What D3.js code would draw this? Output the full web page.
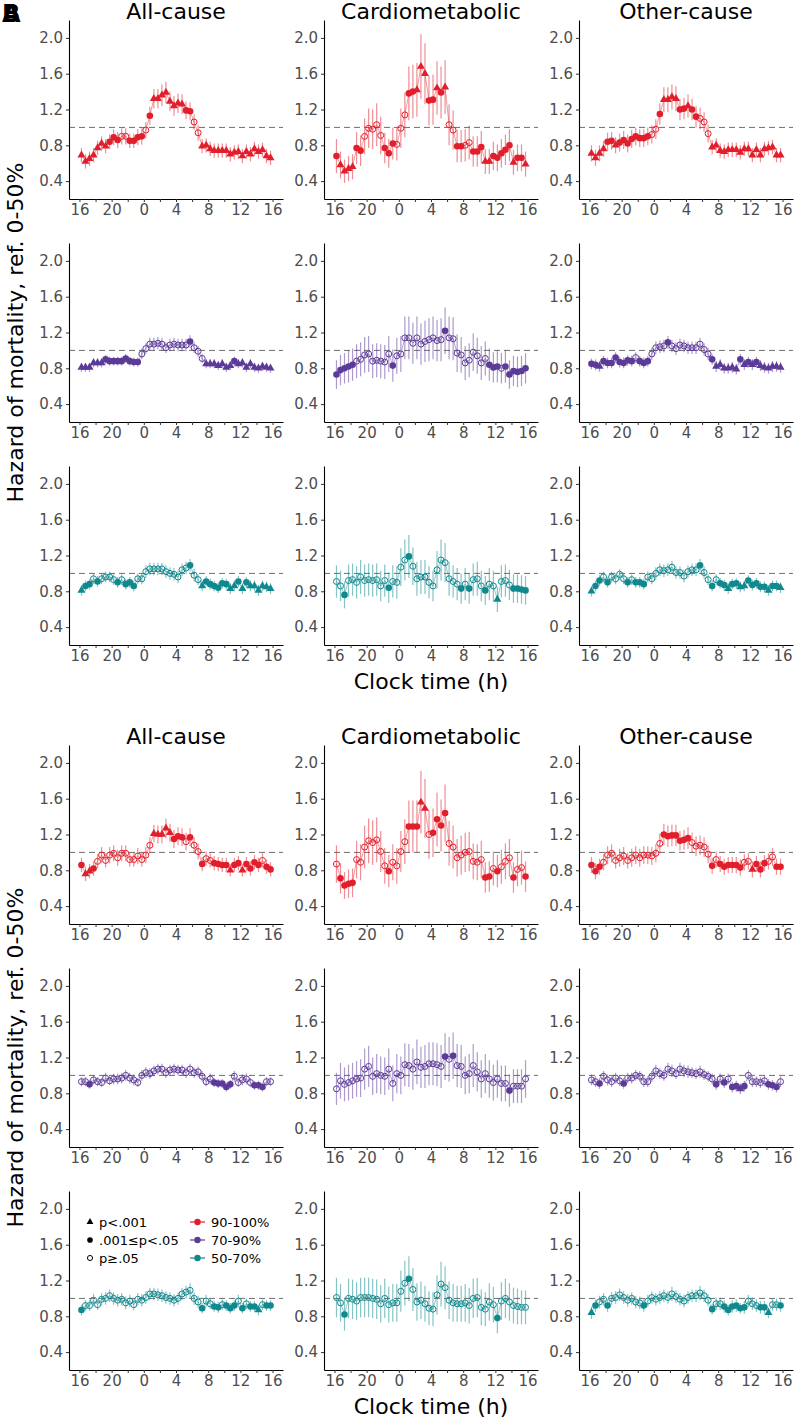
<!DOCTYPE html>
<html><head><meta charset="utf-8">
<script src="https://cdn.jsdelivr.net/npm/d3@7"></script>
<style>body{margin:0;background:#fff}svg{display:block}text{font-family:"DejaVu Sans",sans-serif}</style>
</head><body>
<script>
// ---------------- DATA ----------------
const times = [16.25,16.75,17.25,17.75,18.25,18.75,19.25,19.75,20.25,20.75,21.25,21.75,22.25,22.75,23.25,23.75,
  24.25,24.75,25.25,25.75,26.25,26.75,27.25,27.75,28.25,28.75,29.25,29.75,30.25,30.75,31.25,31.75,
  32.25,32.75,33.25,33.75,34.25,34.75,35.25,35.75,36.25,36.75,37.25,37.75,38.25,38.75,39.25,39.75];
const xTickValues = [16,18,20,22,24,26,28,30,32,34,36,38,40];
const xTickLabels = ["16","","20","","0","","4","","8","","12","","16"];
const yTickValues = [0.4,0.8,1.2,1.6,2.0];
const yTickLabels = ["0.4","0.8","1.2","1.6","2.0"];
const sections = ["A","B"];
const causes = ["All-cause","Cardiometabolic","Other-cause"];
const groups = ["90-100%","70-90%","50-70%"];
const groupColors = ["#E11E2B","#5C3A97","#0F898E"];
const sigCodes = ["T","D","O"];
const sigLabels = ["p<.001",".001\u2264p<.05","p\u2265.05"];
const refLine = 1.0;

// Section A
const A_all_90_hr = [0.69,0.62,0.65,0.69,0.77,0.82,0.79,0.84,0.89,0.86,0.90,0.90,0.85,0.85,0.89,0.90,0.97,1.13,1.32,1.32,1.36,1.39,1.29,1.24,1.27,1.26,1.19,1.18,1.06,0.94,0.79,0.80,0.76,0.74,0.74,0.74,0.74,0.70,0.72,0.73,0.68,0.73,0.70,0.76,0.73,0.75,0.68,0.66];
const A_all_90_sig = "TTTTTTTDDDOODDDDODTTTTTTTTDDOOTTTTTTTTTTTTTTTTTT";
const A_all_90_ci = [0.08,0.08,0.08,0.08,0.08,0.08,0.08,0.08,0.09,0.09,0.09,0.09,0.08,0.08,0.09,0.09,0.09,0.10,0.11,0.11,0.12,0.12,0.11,0.11,0.11,0.11,0.10,0.10,0.09,0.09,0.08,0.08,0.08,0.08,0.08,0.08,0.08,0.08,0.08,0.08,0.08,0.08,0.08,0.08,0.08,0.08,0.08,0.08];

const A_cardio_90_hr = [0.68,0.58,0.51,0.54,0.56,0.77,0.74,0.90,0.99,0.98,1.03,0.91,0.77,0.71,0.82,0.81,0.99,1.14,1.38,1.40,1.42,1.68,1.60,1.30,1.31,1.44,1.39,1.45,1.03,0.97,0.79,0.79,0.80,0.83,0.73,0.73,0.78,0.62,0.62,0.68,0.66,0.71,0.75,0.80,0.61,0.66,0.66,0.59];
const A_cardio_90_sig = "DTTTTDDOOOOODDDOOODDTTTDDTDTOODDOODDDTTDDDDDTDDT";
const A_cardio_90_ci = [0.19,0.15,0.13,0.14,0.14,0.18,0.17,0.20,0.22,0.22,0.24,0.21,0.17,0.16,0.18,0.18,0.22,0.25,0.30,0.30,0.30,0.36,0.34,0.28,0.28,0.30,0.29,0.30,0.23,0.22,0.18,0.18,0.18,0.19,0.17,0.17,0.18,0.14,0.14,0.16,0.15,0.16,0.17,0.18,0.14,0.15,0.15,0.14];

const A_other_90_hr = [0.71,0.66,0.71,0.76,0.84,0.85,0.80,0.83,0.86,0.82,0.87,0.90,0.88,0.88,0.90,0.92,0.98,1.15,1.31,1.31,1.34,1.32,1.20,1.21,1.24,1.20,1.12,1.10,1.06,0.93,0.78,0.80,0.74,0.73,0.75,0.75,0.75,0.72,0.76,0.76,0.69,0.75,0.69,0.76,0.77,0.78,0.69,0.69];
const A_other_90_sig = "TTTTDDTDDDDDDDDOODTTTTDDTDDOOOTTTTTTTTTTTTTTTTTT";
const A_other_90_ci = [0.09,0.09,0.09,0.09,0.10,0.10,0.09,0.10,0.10,0.10,0.10,0.10,0.10,0.10,0.10,0.10,0.11,0.12,0.14,0.14,0.14,0.14,0.12,0.12,0.13,0.12,0.12,0.12,0.11,0.10,0.08,0.08,0.08,0.08,0.08,0.08,0.08,0.08,0.08,0.08,0.08,0.08,0.08,0.08,0.08,0.08,0.08,0.08];

const A_all_70_hr = [0.81,0.81,0.81,0.86,0.86,0.86,0.90,0.88,0.88,0.88,0.88,0.91,0.88,0.87,0.87,0.96,1.02,1.07,1.07,1.08,1.07,1.03,1.06,1.07,1.06,1.06,1.06,1.10,1.03,0.99,0.91,0.85,0.85,0.85,0.83,0.85,0.81,0.83,0.88,0.85,0.86,0.81,0.85,0.81,0.80,0.82,0.81,0.80];
const A_all_70_sig = "TTTTTTDDDDDDDDDOOOOOOOOOOOODOOOTTTTTTTDTTTTTTTTT";
const A_all_70_ci = [0.05,0.05,0.05,0.05,0.05,0.05,0.05,0.05,0.05,0.05,0.05,0.05,0.05,0.05,0.05,0.06,0.06,0.07,0.07,0.07,0.07,0.06,0.07,0.07,0.07,0.07,0.07,0.07,0.06,0.06,0.05,0.05,0.05,0.05,0.05,0.05,0.05,0.05,0.05,0.05,0.05,0.05,0.05,0.05,0.05,0.05,0.05,0.05];

const A_cardio_70_hr = [0.73,0.78,0.80,0.82,0.84,0.88,0.90,0.95,0.96,0.88,0.89,0.88,0.87,0.96,0.83,0.94,0.96,1.14,1.14,1.08,1.14,1.07,1.10,1.12,1.14,1.11,1.12,1.22,1.14,1.13,0.97,0.95,0.86,0.89,0.98,0.94,0.86,0.91,0.84,0.81,0.82,0.80,0.82,0.73,0.77,0.76,0.77,0.80];
const A_cardio_70_sig = "DDDDDOOOOOOOOODOOOOOOOOOOOODOOOOOOOOOODDDODDDDDD";
const A_cardio_70_ci = [0.16,0.17,0.17,0.18,0.18,0.19,0.19,0.20,0.20,0.19,0.19,0.19,0.19,0.20,0.18,0.20,0.20,0.24,0.24,0.23,0.24,0.23,0.23,0.24,0.24,0.23,0.24,0.26,0.24,0.24,0.21,0.20,0.19,0.19,0.21,0.20,0.19,0.19,0.18,0.17,0.18,0.17,0.18,0.16,0.17,0.17,0.17,0.17];

const A_other_70_hr = [0.85,0.84,0.82,0.88,0.86,0.86,0.92,0.87,0.86,0.89,0.88,0.92,0.88,0.86,0.88,0.96,1.03,1.04,1.05,1.09,1.05,1.02,1.06,1.05,1.03,1.03,1.03,1.07,1.01,0.96,0.90,0.82,0.84,0.80,0.80,0.81,0.79,0.90,0.84,0.87,0.84,0.87,0.83,0.81,0.80,0.82,0.82,0.81];
const A_other_70_sig = "DDTDDDDDDDDODDDOOOODOOOOOOOOOODTTTTTTDTDTDTTTTTT";
const A_other_70_ci = [0.06,0.06,0.06,0.06,0.06,0.06,0.06,0.06,0.06,0.06,0.06,0.06,0.06,0.06,0.06,0.07,0.07,0.07,0.07,0.07,0.07,0.07,0.07,0.07,0.07,0.07,0.07,0.07,0.07,0.07,0.06,0.06,0.06,0.06,0.06,0.06,0.06,0.06,0.06,0.06,0.06,0.06,0.06,0.06,0.06,0.06,0.06,0.06];

const A_all_50_hr = [0.81,0.86,0.88,0.94,0.91,0.94,0.96,0.96,0.93,0.90,0.93,0.88,0.90,0.86,0.94,0.94,1.02,1.05,1.05,1.05,1.05,1.02,1.00,0.99,0.96,1.04,1.06,1.09,0.98,0.93,0.86,0.91,0.88,0.86,0.84,0.89,0.88,0.83,0.86,0.91,0.83,0.90,0.86,0.86,0.81,0.86,0.85,0.83];
const A_all_50_sig = "TDDODOOOODODDDOOOOOOOOOOOOODOOTDDDDDDTTDTDTTTTTT";
const A_all_50_ci = [0.06,0.06,0.06,0.06,0.06,0.06,0.06,0.06,0.06,0.06,0.06,0.06,0.06,0.06,0.06,0.06,0.07,0.07,0.07,0.07,0.07,0.07,0.07,0.07,0.07,0.07,0.07,0.07,0.07,0.06,0.06,0.06,0.06,0.06,0.06,0.06,0.06,0.06,0.06,0.06,0.06,0.06,0.06,0.06,0.06,0.06,0.06,0.06];

const A_cardio_50_hr = [0.91,0.86,0.76,0.92,0.93,0.90,0.96,0.92,0.93,0.92,0.93,0.86,0.92,0.84,0.91,0.90,1.07,1.15,1.19,1.08,0.94,0.96,0.96,0.90,0.86,1.04,1.15,1.12,0.94,0.91,0.88,0.83,0.88,0.83,0.93,0.94,0.86,0.81,0.88,0.86,0.71,0.91,0.92,0.87,0.83,0.83,0.82,0.81];
const A_cardio_50_sig = "OODOOOOOOOOOODOOOODOOOOOOOOOOOODODOOODOOTOOODDDD";
const A_cardio_50_ci = [0.18,0.17,0.15,0.18,0.18,0.18,0.19,0.18,0.18,0.18,0.18,0.17,0.18,0.17,0.18,0.18,0.21,0.23,0.24,0.21,0.19,0.19,0.19,0.18,0.17,0.21,0.23,0.22,0.19,0.18,0.18,0.17,0.18,0.17,0.18,0.19,0.17,0.16,0.18,0.17,0.14,0.18,0.18,0.17,0.16,0.16,0.16,0.16];

const A_other_50_hr = [0.80,0.86,0.92,0.96,0.90,0.96,0.94,0.99,0.94,0.90,0.93,0.90,0.90,0.88,0.96,0.94,1.00,1.04,1.03,1.04,1.07,1.01,1.01,0.97,1.02,1.04,1.04,1.09,1.01,0.93,0.86,0.93,0.89,0.87,0.83,0.88,0.89,0.85,0.86,0.92,0.87,0.89,0.85,0.85,0.81,0.86,0.86,0.84];
const A_other_50_sig = "TDDODOOOODODDDOOOOOOOOOOOOODOODODDTDDTTDDDDDTDDT";
const A_other_50_ci = [0.06,0.06,0.06,0.06,0.06,0.06,0.06,0.06,0.06,0.06,0.06,0.06,0.06,0.06,0.06,0.06,0.07,0.07,0.07,0.07,0.07,0.07,0.07,0.07,0.07,0.07,0.07,0.07,0.07,0.06,0.06,0.06,0.06,0.06,0.06,0.06,0.06,0.06,0.06,0.06,0.06,0.06,0.06,0.06,0.06,0.06,0.06,0.06];

// Section B
const B_all_90_hr = [0.86,0.76,0.79,0.82,0.90,0.97,0.91,0.97,0.99,0.94,0.99,0.99,0.92,0.92,0.96,0.92,0.97,1.08,1.21,1.20,1.20,1.27,1.22,1.15,1.18,1.17,1.12,1.17,1.08,1.01,0.87,0.93,0.91,0.88,0.87,0.86,0.86,0.80,0.86,0.88,0.80,0.87,0.82,0.89,0.86,0.91,0.84,0.81];
const B_all_90_sig = "DTTDOOOOOOOOOOOOOOTTTTTDDDODOODOODDDDTDDTDDDDODD";
const B_all_90_ci = [0.08,0.08,0.08,0.08,0.08,0.09,0.08,0.09,0.09,0.09,0.09,0.09,0.08,0.08,0.09,0.08,0.09,0.09,0.10,0.10,0.10,0.11,0.10,0.10,0.10,0.10,0.10,0.10,0.09,0.09,0.08,0.08,0.08,0.08,0.08,0.08,0.08,0.07,0.08,0.08,0.07,0.08,0.08,0.08,0.08,0.08,0.08,0.08];

const B_cardio_90_hr = [0.87,0.71,0.63,0.65,0.66,0.92,0.89,1.06,1.13,1.11,1.14,1.01,0.85,0.79,0.89,0.85,1.01,1.12,1.29,1.29,1.29,1.56,1.49,1.20,1.22,1.37,1.30,1.44,1.10,1.06,0.94,0.97,1.00,1.01,0.90,0.89,0.92,0.72,0.73,0.82,0.79,0.84,0.90,0.94,0.72,0.81,0.83,0.73];
const B_cardio_90_sig = "ODDDDOOOOOOOODOOOODDDTTODDDDOOOOOOOOODDODOOODOOD";
const B_cardio_90_ci = [0.21,0.17,0.15,0.16,0.16,0.21,0.20,0.24,0.25,0.25,0.25,0.23,0.20,0.18,0.20,0.20,0.23,0.25,0.29,0.29,0.29,0.35,0.33,0.27,0.27,0.30,0.29,0.32,0.25,0.24,0.21,0.22,0.22,0.22,0.20,0.20,0.21,0.17,0.17,0.19,0.18,0.19,0.20,0.21,0.17,0.19,0.19,0.17];

const B_other_90_hr = [0.86,0.79,0.84,0.89,0.97,0.99,0.91,0.94,0.96,0.91,0.94,0.97,0.94,0.97,0.97,0.96,0.99,1.10,1.20,1.18,1.19,1.19,1.13,1.14,1.16,1.11,1.07,1.08,1.06,0.98,0.85,0.92,0.87,0.84,0.86,0.86,0.86,0.83,0.89,0.90,0.81,0.87,0.81,0.88,0.90,0.95,0.84,0.84];
const B_other_90_sig = "DDDOOOOOOOOOOOOOOODDDDDDDOOOOODODDDDDDOOTDDDOODD";
const B_other_90_ci = [0.09,0.09,0.09,0.09,0.10,0.10,0.09,0.10,0.10,0.09,0.10,0.10,0.10,0.10,0.10,0.10,0.10,0.11,0.12,0.12,0.12,0.12,0.11,0.11,0.12,0.11,0.11,0.11,0.11,0.10,0.09,0.09,0.09,0.09,0.09,0.09,0.09,0.09,0.09,0.09,0.09,0.09,0.09,0.09,0.09,0.10,0.09,0.09];

const B_all_70_hr = [0.93,0.93,0.90,0.95,0.93,0.92,0.97,0.94,0.96,0.96,0.97,1.00,0.97,0.95,0.92,1.00,1.03,1.02,1.05,1.07,1.07,1.03,1.06,1.07,1.06,1.06,1.03,1.07,1.03,1.04,0.99,0.93,0.96,0.92,0.91,0.91,0.87,0.90,0.99,0.92,0.95,0.96,0.92,0.89,0.89,0.87,0.93,0.93];
const B_all_70_sig = "OODOOOOOOOOOOOOOOOOOOOOOOOOOOOOOODDDDDOOOOODDDOO";
const B_all_70_ci = [0.05,0.05,0.05,0.05,0.05,0.05,0.06,0.05,0.06,0.06,0.06,0.06,0.06,0.06,0.05,0.06,0.06,0.06,0.06,0.06,0.06,0.06,0.06,0.06,0.06,0.06,0.06,0.06,0.06,0.06,0.06,0.05,0.06,0.05,0.05,0.05,0.05,0.05,0.06,0.05,0.06,0.06,0.05,0.05,0.05,0.05,0.05,0.05];

const B_cardio_70_hr = [0.85,0.94,0.90,0.92,0.94,0.96,0.97,1.07,1.10,0.99,1.02,1.00,0.99,1.07,0.91,1.02,1.00,1.12,1.11,1.07,1.15,1.09,1.10,1.13,1.13,1.12,1.10,1.21,1.18,1.22,1.11,1.10,1.00,1.02,1.11,1.04,0.96,1.02,0.96,0.92,0.96,0.91,0.91,0.83,0.88,0.88,0.88,0.96];
const B_cardio_70_sig = "OOOOOOOOOOOOOOOOOOOOOOOOOOODODOOOOOOOOOOOOODOOOO";
const B_cardio_70_ci = [0.18,0.20,0.19,0.20,0.20,0.20,0.21,0.23,0.23,0.21,0.22,0.21,0.21,0.23,0.20,0.22,0.21,0.24,0.24,0.23,0.25,0.23,0.24,0.24,0.24,0.24,0.24,0.26,0.25,0.26,0.24,0.24,0.21,0.22,0.24,0.22,0.21,0.22,0.21,0.20,0.21,0.20,0.20,0.18,0.19,0.19,0.19,0.21];

const B_other_70_hr = [0.95,0.93,0.91,0.99,0.95,0.93,0.97,0.94,0.91,0.97,0.97,1.00,0.99,0.93,0.93,0.99,1.05,1.02,1.00,1.07,1.05,1.02,1.07,1.05,1.04,1.03,1.02,1.04,1.01,0.99,0.96,0.90,0.96,0.92,0.96,0.87,0.88,0.85,0.88,1.00,0.93,0.93,0.92,0.94,0.90,0.89,0.87,0.93];
const B_other_70_sig = "OODOOOOODOOOOOOOOOOOOOOOOOOOOOODODODDTDOOOOODDDO";
const B_other_70_ci = [0.06,0.06,0.06,0.06,0.06,0.06,0.06,0.06,0.06,0.06,0.06,0.06,0.06,0.06,0.06,0.06,0.07,0.06,0.06,0.07,0.07,0.06,0.07,0.07,0.07,0.06,0.06,0.07,0.06,0.06,0.06,0.06,0.06,0.06,0.06,0.06,0.06,0.06,0.06,0.06,0.06,0.06,0.06,0.06,0.06,0.06,0.06,0.06];

const B_all_50_hr = [0.87,0.92,0.92,0.98,0.93,0.99,1.00,1.03,1.00,0.98,0.99,0.95,0.97,0.93,0.99,0.98,1.01,1.05,1.05,1.04,1.03,1.01,1.00,0.98,1.00,1.05,1.07,1.09,1.00,0.96,0.89,0.97,0.94,0.91,0.90,0.93,0.92,0.89,0.92,0.97,0.89,0.94,0.91,0.91,0.87,0.93,0.92,0.92];
const B_all_50_sig = "DOOOOOOOOOOOOOOOOOOOOOOOOOOOOODOODDODDDODODDTODD";
const B_all_50_ci = [0.06,0.06,0.06,0.07,0.06,0.07,0.07,0.07,0.07,0.07,0.07,0.07,0.07,0.06,0.07,0.07,0.07,0.07,0.07,0.07,0.07,0.07,0.07,0.07,0.07,0.07,0.07,0.08,0.07,0.07,0.06,0.07,0.06,0.06,0.06,0.06,0.06,0.06,0.06,0.07,0.06,0.06,0.06,0.06,0.06,0.06,0.06,0.06];

const B_cardio_50_hr = [1.01,0.95,0.82,1.00,0.99,0.97,1.01,1.01,1.01,1.00,0.99,0.94,1.00,0.93,0.95,0.95,1.08,1.17,1.22,1.10,0.96,0.98,0.94,0.89,0.88,1.04,1.16,1.12,0.98,0.95,0.94,0.94,0.95,0.92,1.00,1.01,0.90,0.88,0.96,0.93,0.78,0.97,1.00,0.96,0.92,0.91,0.90,0.90];
const B_cardio_50_sig = "OODOOOOOOOOOOOOOOODOOOOOOOOOOOOOOOOOOOOODOOOOOOO";
const B_cardio_50_ci = [0.22,0.21,0.18,0.22,0.22,0.21,0.22,0.22,0.22,0.22,0.22,0.21,0.22,0.20,0.21,0.21,0.23,0.25,0.25,0.24,0.21,0.21,0.20,0.19,0.19,0.22,0.25,0.24,0.21,0.21,0.20,0.20,0.21,0.20,0.22,0.22,0.20,0.19,0.21,0.20,0.17,0.21,0.22,0.21,0.20,0.20,0.19,0.19];

const B_other_50_hr = [0.84,0.92,0.96,0.99,0.92,1.00,1.01,1.04,1.01,0.98,1.00,0.96,0.95,0.92,0.97,1.01,0.99,1.01,1.03,1.01,1.05,1.02,0.99,0.97,1.01,1.03,1.03,1.06,1.03,0.98,0.88,0.94,0.94,0.91,0.87,0.91,0.92,0.89,0.90,0.97,0.94,0.92,0.90,0.90,0.84,0.93,0.93,0.92];
const B_other_50_sig = "TDOODOOOOOOOODOOOOOOOOOOOOOOOODOODDDDDDOOODDTOOD";
const B_other_50_ci = [0.07,0.07,0.07,0.07,0.07,0.07,0.07,0.07,0.07,0.07,0.07,0.07,0.07,0.07,0.07,0.07,0.07,0.07,0.07,0.07,0.08,0.07,0.07,0.07,0.07,0.07,0.07,0.08,0.07,0.07,0.06,0.07,0.07,0.07,0.06,0.07,0.07,0.06,0.07,0.07,0.07,0.07,0.07,0.07,0.06,0.07,0.07,0.07];

const panelData = {
  A: [[ [A_all_90_hr,A_all_90_sig,A_all_90_ci], [A_cardio_90_hr,A_cardio_90_sig,A_cardio_90_ci], [A_other_90_hr,A_other_90_sig,A_other_90_ci] ],
      [ [A_all_70_hr,A_all_70_sig,A_all_70_ci], [A_cardio_70_hr,A_cardio_70_sig,A_cardio_70_ci], [A_other_70_hr,A_other_70_sig,A_other_70_ci] ],
      [ [A_all_50_hr,A_all_50_sig,A_all_50_ci], [A_cardio_50_hr,A_cardio_50_sig,A_cardio_50_ci], [A_other_50_hr,A_other_50_sig,A_other_50_ci] ]],
  B: [[ [B_all_90_hr,B_all_90_sig,B_all_90_ci], [B_cardio_90_hr,B_cardio_90_sig,B_cardio_90_ci], [B_other_90_hr,B_other_90_sig,B_other_90_ci] ],
      [ [B_all_70_hr,B_all_70_sig,B_all_70_ci], [B_cardio_70_hr,B_cardio_70_sig,B_cardio_70_ci], [B_other_70_hr,B_other_70_sig,B_other_70_ci] ],
      [ [B_all_50_hr,B_all_50_sig,B_all_50_ci], [B_cardio_50_hr,B_cardio_50_sig,B_cardio_50_ci], [B_other_50_hr,B_other_50_sig,B_other_50_ci] ]]
};

// ---------------- LAYOUT ----------------
const W = 796, H = 1424;
const sectionOffset = {A: 0, B: 725};
const colLeft = [69, 324, 579];
const plotW = 214, plotH = 179;
const rowTop = [20, 243, 466];
const xDomain = [14.7, 41.3];
const yDomain = [0.2, 2.2];

const svg = d3.select("body").append("svg").attr("width", W).attr("height", H);

function marker(g, shape, cx, cy, color, scale) {
  const s = scale || 1;
  if (shape === "T") {
    g.append("path").attr("d", d3.symbol().type(d3.symbolTriangle).size(28 * s * s)())
      .attr("transform", `translate(${cx},${cy})`).attr("fill", color);
  } else if (shape === "D") {
    g.append("circle").attr("cx", cx).attr("cy", cy).attr("r", 3.3 * s).attr("fill", color);
  } else {
    g.append("circle").attr("cx", cx).attr("cy", cy).attr("r", 3.0 * s)
      .attr("fill", "none").attr("stroke", color).attr("stroke-width", 1);
  }
}

sections.forEach(sec => {
  const off = sectionOffset[sec];
  for (let r = 0; r < 3; r++) {
    for (let c = 0; c < 3; c++) {
      const [hr, sigStr, ci] = panelData[sec][r][c];
      const sig = sigStr.split("");
      const color = groupColors[r];
      const left = colLeft[c], top = rowTop[r] + off;
      const x = d3.scaleLinear().domain(xDomain).range([left, left + plotW]);
      const y = d3.scaleLinear().domain(yDomain).range([top + plotH, top]);
      const g = svg.append("g");

      g.append("line").attr("x1", left).attr("x2", left + plotW)
        .attr("y1", y(refLine)).attr("y2", y(refLine))
        .attr("stroke", "#6e6e6e").attr("stroke-width", 1).attr("stroke-dasharray", "6,4");

      const pts = times.map((t, i) => ({t, v: hr[i], e: ci[i], s: sig[i]}));

      g.append("path").datum(pts)
        .attr("d", d3.line().x(d => x(d.t)).y(d => y(d.v)))
        .attr("fill", "none").attr("stroke", color).attr("stroke-opacity", 0.45).attr("stroke-width", 1);

      g.selectAll(".eb").data(pts).enter().append("line")
        .attr("x1", d => x(d.t)).attr("x2", d => x(d.t))
        .attr("y1", d => y(d.v - d.e)).attr("y2", d => y(d.v + d.e))
        .attr("stroke", color).attr("stroke-opacity", 0.5).attr("stroke-width", 1.2);

      pts.forEach(d => marker(g, d.s, x(d.t), y(d.v), color));

      const ya = g.append("g").attr("transform", `translate(${left},0)`)
        .call(d3.axisLeft(y).tickValues(yTickValues).tickFormat((d, i) => yTickLabels[i]).tickSize(3).tickSizeOuter(0).tickPadding(3));
      const xa = g.append("g").attr("transform", `translate(0,${top + plotH})`)
        .call(d3.axisBottom(x).tickValues(xTickValues).tickFormat((d, i) => xTickLabels[i]).tickSize(3).tickSizeOuter(0).tickPadding(2));
      [ya, xa].forEach(a => {
        a.select(".domain").attr("stroke", "#000").attr("stroke-width", 1.1);
        a.selectAll(".tick line").attr("stroke", "#333").attr("stroke-width", 1);
        a.selectAll(".tick text").attr("fill", "#4D4D4D").style("font-size", "15px")
          .style("font-family", "'DejaVu Sans', sans-serif");
      });

      if (r === 0) {
        g.append("text").attr("x", left + plotW / 2).attr("y", top - 1)
          .attr("text-anchor", "middle").style("font-size", "22px").attr("fill", "#000")
          .text(causes[c]);
      }
    }
  }
  const cy = (rowTop[0] + rowTop[2] + plotH) / 2 + off;
  svg.append("text").attr("transform", `translate(23,${cy}) rotate(-90)`)
    .attr("text-anchor", "middle").style("font-size", "22px").attr("fill", "#000")
    .text("Hazard of mortality, ref. 0-50%");
  svg.append("text").attr("x", colLeft[1] + plotW / 2).attr("y", rowTop[2] + plotH + off + 44)
    .attr("text-anchor", "middle").style("font-size", "22px").attr("fill", "#000")
    .text("Clock time (h)");
});

// panel letters (overlapping, as in the original)
["A", "B"].forEach(l => {
  svg.append("text").attr("x", 2).attr("y", 22).style("font-size", "24px").style("font-weight", "bold")
    .attr("fill", "#000").text(l);
});

// legend in section B, bottom-left panel
const lg = svg.append("g");
const lgTop = 1222, lgStep = 18;
sigCodes.forEach((code, i) => {
  marker(lg, code, 90, lgTop + i * lgStep, "#000", 0.85);
  lg.append("text").attr("x", 99).attr("y", lgTop + i * lgStep).attr("dy", "0.35em")
    .style("font-size", "13px").attr("fill", "#000").text(sigLabels[i]);
});
groups.forEach((gname, i) => {
  const yy = lgTop + i * lgStep;
  lg.append("line").attr("x1", 190).attr("x2", 205).attr("y1", yy).attr("y2", yy)
    .attr("stroke", groupColors[i]).attr("stroke-width", 1.2);
  lg.append("circle").attr("cx", 197.5).attr("cy", yy).attr("r", 3.2).attr("fill", groupColors[i]);
  lg.append("text").attr("x", 211).attr("y", yy).attr("dy", "0.35em")
    .style("font-size", "13px").attr("fill", "#000").text(gname);
});
</script>
</body></html>
